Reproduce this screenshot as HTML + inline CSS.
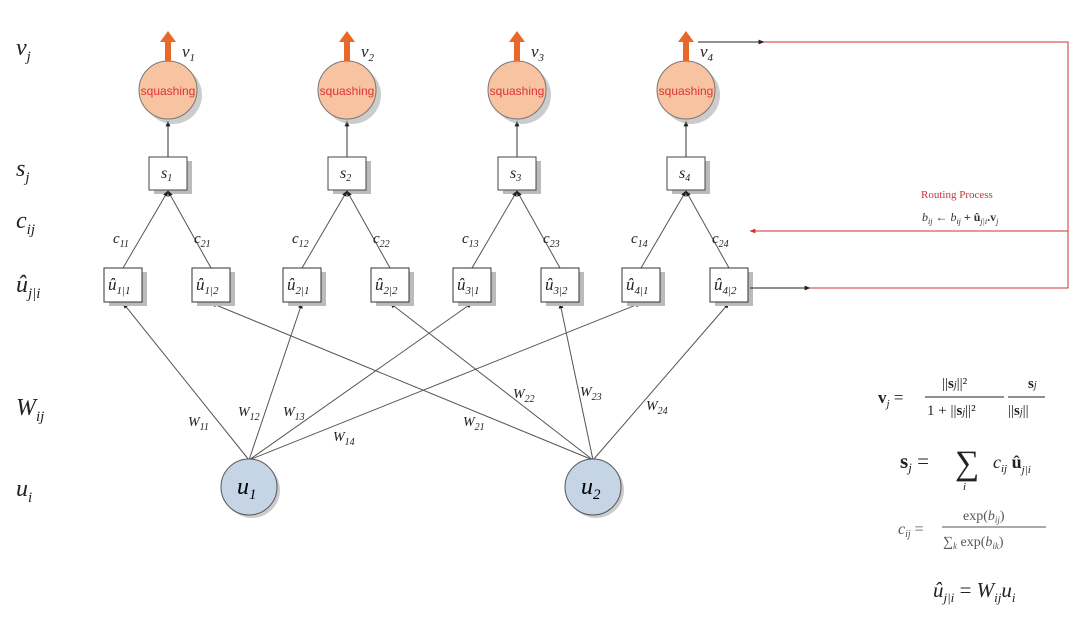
<!DOCTYPE html>
<html><head><style>
body{margin:0;background:#fff;}
svg text{font-family:"Liberation Serif",serif;}
.it{font-style:italic}
.sq{font-family:"Liberation Sans",sans-serif;font-size:12px;fill:#d33}
</style></head><body>
<svg width="1080" height="617" viewBox="0 0 1080 617" xmlns="http://www.w3.org/2000/svg">
<defs>
<marker id="a" viewBox="0 0 10 10" refX="9" refY="5" markerWidth="6" markerHeight="6" orient="auto"><path d="M0,1L10,5L0,9z" fill="#222"/></marker>
<marker id="r" viewBox="0 0 10 10" refX="9" refY="5" markerWidth="6" markerHeight="6" orient="auto"><path d="M0,1L10,5L0,9z" fill="#c33"/></marker>
<g id="col">
<line x1="0" y1="157" x2="0" y2="121" stroke="#333" marker-end="url(#a)"/>
<circle cx="5" cy="95" r="29" fill="#aaa" opacity=".6"/>
<circle cx="0" cy="90" r="29" fill="#f8c3a0" stroke="#777"/>
<text x="0" y="95" text-anchor="middle" class="sq">squashing</text>
<path d="M-3,61 L-3,42 L-8,42 L0,31 L8,42 L3,42 L3,61z" fill="#e8682a"/>
<rect x="-14" y="161" width="38" height="33" fill="#bbb"/>
<rect x="-19" y="157" width="38" height="33" fill="#fff" stroke="#444"/>
<line x1="-45" y1="268" x2="0" y2="191" stroke="#555" marker-end="url(#a)"/>
<line x1="43" y1="268" x2="0" y2="191" stroke="#555" marker-end="url(#a)"/>
<rect x="-59" y="272" width="38" height="34" fill="#bbb"/>
<rect x="-64" y="268" width="38" height="34" fill="#fff" stroke="#333"/>
<rect x="29" y="272" width="38" height="34" fill="#bbb"/>
<rect x="24" y="268" width="38" height="34" fill="#fff" stroke="#333"/>
</g>
</defs>
<!-- left labels -->
<g font-size="24" fill="#222" class="it">
<text x="16" y="55">v<tspan font-size="15" dy="6">j</tspan></text>
<text x="16" y="176">s<tspan font-size="15" dy="6">j</tspan></text>
<text x="16" y="228">c<tspan font-size="15" dy="6">ij</tspan></text>
<text x="16" y="292">û<tspan font-size="15" dy="6">j|i</tspan></text>
<text x="16" y="415">W<tspan font-size="15" dy="6">ij</tspan></text>
<text x="16" y="496">u<tspan font-size="15" dy="6">i</tspan></text>
</g>
<!-- lower connections -->
<g stroke="#555" stroke-width="1" fill="none" marker-end="url(#a)">
<line x1="249" y1="460" x2="123" y2="303"/>
<line x1="249" y1="460" x2="302" y2="303"/>
<line x1="249" y1="460" x2="472" y2="303"/>
<line x1="249" y1="460" x2="641" y2="303"/>
<line x1="593" y1="460" x2="211" y2="303"/>
<line x1="593" y1="460" x2="390" y2="303"/>
<line x1="593" y1="460" x2="560" y2="303"/>
<line x1="593" y1="460" x2="729" y2="303"/>
</g>
<g font-size="14" class="it" fill="#222">
<text x="188" y="426">W<tspan font-size="10" dy="4">11</tspan></text>
<text x="238" y="416">W<tspan font-size="10" dy="4">12</tspan></text>
<text x="283" y="416">W<tspan font-size="10" dy="4">13</tspan></text>
<text x="333" y="441">W<tspan font-size="10" dy="4">14</tspan></text>
<text x="463" y="426">W<tspan font-size="10" dy="4">21</tspan></text>
<text x="513" y="398">W<tspan font-size="10" dy="4">22</tspan></text>
<text x="580" y="396">W<tspan font-size="10" dy="4">23</tspan></text>
<text x="646" y="410">W<tspan font-size="10" dy="4">24</tspan></text>
</g>
<!-- u circles -->
<circle cx="252" cy="490" r="28" fill="#999" opacity=".5"/>
<circle cx="249" cy="487" r="28" fill="#c5d5e6" stroke="#555"/>
<text x="237" y="494" font-size="24" class="it">u<tspan font-size="15" dy="5">1</tspan></text>
<circle cx="596" cy="490" r="28" fill="#999" opacity=".5"/>
<circle cx="593" cy="487" r="28" fill="#c5d5e6" stroke="#555"/>
<text x="581" y="494" font-size="24" class="it">u<tspan font-size="15" dy="5">2</tspan></text>
<!-- columns -->
<use href="#col" x="168"/>
<use href="#col" x="347"/>
<use href="#col" x="517"/>
<use href="#col" x="686"/>
<g class="it" fill="#222">
<text x="182" y="57" font-size="17">v<tspan font-size="11" dy="4">1</tspan></text>
<text x="361" y="57" font-size="17">v<tspan font-size="11" dy="4">2</tspan></text>
<text x="531" y="57" font-size="17">v<tspan font-size="11" dy="4">3</tspan></text>
<text x="700" y="57" font-size="17">v<tspan font-size="11" dy="4">4</tspan></text>
<text x="161" y="178" font-size="16">s<tspan font-size="10" dy="3">1</tspan></text>
<text x="340" y="178" font-size="16">s<tspan font-size="10" dy="3">2</tspan></text>
<text x="510" y="178" font-size="16">s<tspan font-size="10" dy="3">3</tspan></text>
<text x="679" y="178" font-size="16">s<tspan font-size="10" dy="3">4</tspan></text>
<g font-size="15">
<text x="113" y="243">c<tspan font-size="10" dy="4">11</tspan></text>
<text x="194" y="243">c<tspan font-size="10" dy="4">21</tspan></text>
<text x="292" y="243">c<tspan font-size="10" dy="4">12</tspan></text>
<text x="373" y="243">c<tspan font-size="10" dy="4">22</tspan></text>
<text x="462" y="243">c<tspan font-size="10" dy="4">13</tspan></text>
<text x="543" y="243">c<tspan font-size="10" dy="4">23</tspan></text>
<text x="631" y="243">c<tspan font-size="10" dy="4">14</tspan></text>
<text x="712" y="243">c<tspan font-size="10" dy="4">24</tspan></text>
</g>
<g font-size="17">
<text x="108" y="290">û<tspan font-size="11" dy="4">1|1</tspan></text>
<text x="196" y="290">û<tspan font-size="11" dy="4">1|2</tspan></text>
<text x="287" y="290">û<tspan font-size="11" dy="4">2|1</tspan></text>
<text x="375" y="290">û<tspan font-size="11" dy="4">2|2</tspan></text>
<text x="457" y="290">û<tspan font-size="11" dy="4">3|1</tspan></text>
<text x="545" y="290">û<tspan font-size="11" dy="4">3|2</tspan></text>
<text x="626" y="290">û<tspan font-size="11" dy="4">4|1</tspan></text>
<text x="714" y="290">û<tspan font-size="11" dy="4">4|2</tspan></text>
</g>
</g>
<!-- feedback -->
<line x1="698" y1="42" x2="764" y2="42" stroke="#222" marker-end="url(#a)"/>
<polyline points="764,42 1068,42 1068,288 808,288" fill="none" stroke="#c33"/>
<line x1="750" y1="288" x2="810" y2="288" stroke="#222" marker-end="url(#a)"/>
<line x1="1068" y1="231" x2="750" y2="231" stroke="#c33" marker-end="url(#r)"/>
<text x="921" y="198" font-size="11" fill="#c33" font-family="Liberation Sans">Routing Process</text>
<text x="922" y="221" font-size="12" class="it" fill="#333">b<tspan font-size="8" dy="3">ij</tspan><tspan dy="-3"> ← b</tspan><tspan font-size="8" dy="3">ij</tspan><tspan dy="-3" font-style="normal" font-weight="bold"> + û</tspan><tspan font-size="8" dy="3">j|i</tspan><tspan dy="-3" font-weight="bold" font-style="normal">.v</tspan><tspan font-size="8" dy="3">j</tspan></text>
<!-- formulas -->
<g fill="#222" font-size="17">
<text x="878" y="403"><tspan font-weight="bold">v</tspan><tspan font-size="11" dy="4" class="it">j</tspan><tspan dy="-4"> =</tspan></text>
<text x="942" y="388" font-size="15">||<tspan font-weight="bold">s</tspan><tspan font-size="10" class="it">j</tspan>||²</text>
<line x1="925" y1="397" x2="1004" y2="397" stroke="#222"/>
<text x="927" y="415" font-size="15">1 + ||<tspan font-weight="bold">s</tspan><tspan font-size="10" class="it">j</tspan>||²</text>
<text x="1028" y="388" font-size="15" font-weight="bold">s<tspan font-size="10" font-weight="normal" class="it">j</tspan></text>
<line x1="1008" y1="397" x2="1045" y2="397" stroke="#222"/>
<text x="1008" y="415" font-size="15">||<tspan font-weight="bold">s</tspan><tspan font-size="10" class="it">j</tspan>||</text>
<text x="900" y="468" font-size="21"><tspan font-weight="bold">s</tspan><tspan font-size="13" class="it" dy="4">j</tspan><tspan dy="-4"> =</tspan></text>
<text x="955" y="474" font-size="34">∑</text>
<text x="963" y="490" font-size="11" class="it">i</text>
<text x="993" y="468" font-size="18" class="it">c<tspan font-size="11" dy="4">ij</tspan><tspan dy="-4" font-weight="bold" font-style="normal"> û</tspan><tspan font-size="11" dy="5">j|i</tspan></text>
<text x="898" y="534" font-size="16" class="it" fill="#555">c<tspan font-size="10" dy="3">ij</tspan><tspan dy="-3" font-style="normal"> =</tspan></text>
<text x="963" y="520" font-size="14" fill="#555">exp(<tspan class="it">b</tspan><tspan font-size="9" class="it" dy="3">ij</tspan><tspan dy="-3">)</tspan></text>
<line x1="942" y1="527" x2="1046" y2="527" stroke="#555"/>
<text x="943" y="546" font-size="14" fill="#555">∑<tspan font-size="9" class="it" dy="3">k</tspan><tspan dy="-3"> exp(</tspan><tspan class="it">b</tspan><tspan font-size="9" class="it" dy="3">ik</tspan><tspan dy="-3">)</tspan></text>
<text x="933" y="597" font-size="21" class="it">û<tspan font-size="13" dy="5">j|i</tspan><tspan dy="-5" font-style="normal"> = </tspan>W<tspan font-size="13" dy="5">ij</tspan><tspan dy="-5">u</tspan><tspan font-size="13" dy="5">i</tspan></text>
</g>
</svg>
</body></html>
